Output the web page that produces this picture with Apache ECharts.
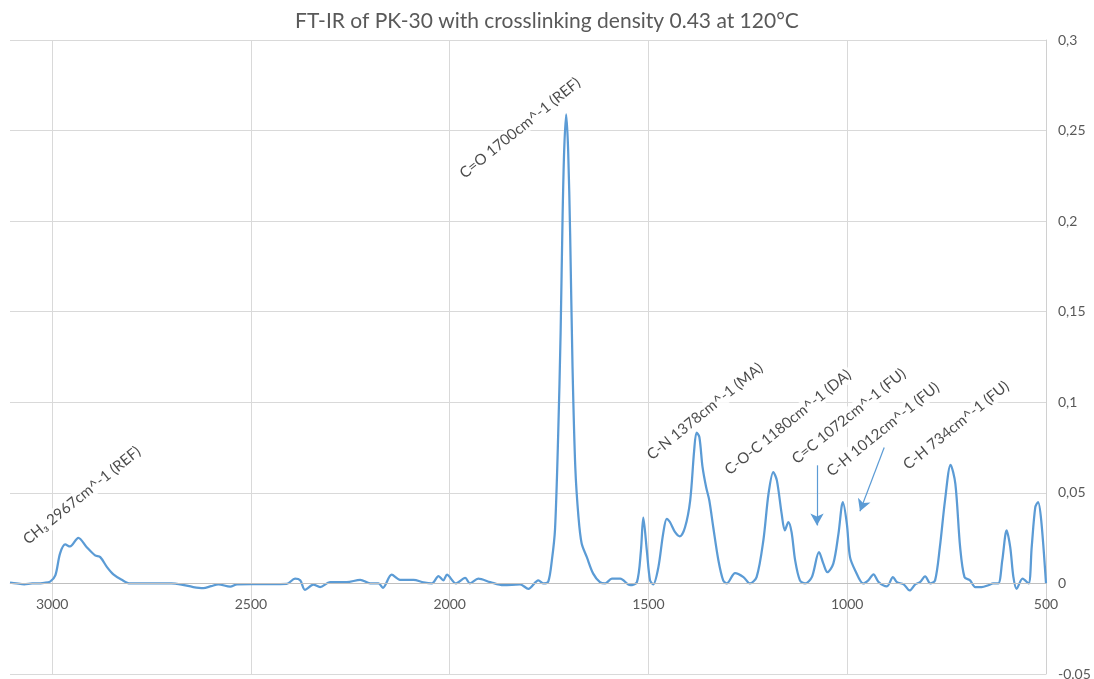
<!DOCTYPE html>
<html>
<head>
<meta charset="utf-8">
<script src="https://cdn.jsdelivr.net/npm/echarts@6/dist/echarts.min.js"></script>
<style>
html,body{margin:0;padding:0;background:#fff;}
#chart{width:1094px;height:679px;}
</style>
</head>
<body>
<div id="chart"></div>
<script>
// Wavenumber (cm^-1) and absorbance
const wavenumbers = [3106,3090,3070,3050,3038,3020,3005,2992,2980,2967,2955,2934,2913,2892,2879,2862,2846,2825,2804,2754,2700,2678,2645,2620,2600,2582,2552,2535,2500,2450,2410,2389,2376,2364,2343,2326,2301,2259,2225,2200,2179,2168,2146,2125,2091,2066,2045,2028,2016,2007,1984,1961,1949,1928,1898,1865,1823,1802,1777,1764,1752,1743,1735,1727,1721,1716,1712,1707,1702,1697,1691,1684,1676,1668,1655,1639,1622,1609,1592,1571,1546,1529,1519,1513,1504,1496,1488,1475,1463,1454,1446,1433,1421,1408,1395,1385,1379,1372,1364,1355,1347,1337,1324,1312,1303,1282,1261,1245,1228,1211,1198,1186,1177,1165,1157,1148,1140,1131,1119,1106,1089,1071,1060,1050,1035,1022,1011,1001,993,980,960,947,934,921,900,885,875,858,843,829,817,804,791,779,767,754,740,728,716,705,691,678,662,645,633,620,610,599,590,582,574,559,544,536,527,520,512,500];
const absorbance = [0.0005,0.0,-0.0005,0.0,0.0,0.0003,0.001,0.0044,0.0166,0.0215,0.0204,0.0252,0.020,0.0155,0.0145,0.009,0.005,0.002,0.0,0.0,0.0,-0.0005,-0.002,-0.0026,-0.0015,-0.0005,-0.0018,-0.0005,-0.0004,-0.0004,-0.0003,0.0026,0.0017,-0.0035,-0.0007,-0.002,0.0007,0.0007,0.002,0.0,0.0,-0.0024,0.0048,0.002,0.002,0.0006,0.0,0.004,0.0017,0.0048,0.0,0.003,0.0,0.0026,0.0007,-0.001,-0.0005,-0.003,0.0017,0.0,0.001,0.0127,0.03,0.0827,0.138,0.2025,0.239,0.259,0.239,0.193,0.1195,0.064,0.0366,0.022,0.0145,0.0054,0.0007,0.0,0.0026,0.0026,-0.001,0.0007,0.018,0.0363,0.018,0.0017,-0.0005,0.009,0.0275,0.0357,0.0339,0.0283,0.026,0.031,0.0459,0.0735,0.0833,0.0808,0.0643,0.0532,0.0459,0.031,0.0127,0.0017,0.0,0.0057,0.0035,0.0,0.0035,0.0237,0.0495,0.0615,0.0569,0.0385,0.0293,0.0339,0.0283,0.0127,0.0017,0.0,0.0035,0.0173,0.0109,0.0062,0.0109,0.0275,0.0449,0.033,0.0145,0.0072,0.0,0.0017,0.005,0.0007,-0.0016,0.0035,0.0007,-0.0005,-0.0039,-0.0005,0.0007,0.0039,0.0,0.0017,0.02,0.0459,0.0655,0.055,0.02,0.0035,0.0017,-0.002,-0.002,-0.001,0.0,0.0,0.0127,0.0293,0.02,0.0035,-0.003,0.0026,0.0,0.02,0.042,0.0449,0.0348,0.0];

// Peak annotations: text and its centre (wavenumber, absorbance)
const annotationTexts = ["CH\u2083 2967cm^-1 (REF)","C=O 1700cm^-1 (REF)","C-N 1378cm^-1 (MA)","C-O-C 1180cm^-1 (DA)","C=C 1072cm^-1 (FU)","C-H 1012cm^-1 (FU)","C-H 734cm^-1 (FU)"];
const annotationX = [2925,1823,1358,1149,996,910,726];
const annotationY = [0.0486,0.2514,0.095,0.089,0.0923,0.0851,0.0873];

// Arrows: start and end points (wavenumber, absorbance)
const arrowFromX = [1076,907];
const arrowFromY = [0.0652,0.075];
const arrowToX = [1076,968];
const arrowToY = [0.032,0.0398];

const xTicks = [500,1000,1500,2000,2500,3000];
const yTicks = [-0.05,0,0.05,0.1,0.15,0.2,0.25,0.3];

const FONT = 'Lato';
const chart = echarts.init(document.getElementById('chart'), null, {renderer:'canvas'});
const lineData = wavenumbers.map((w,i)=>[w, absorbance[i]]);
const annData = annotationTexts.map((t,i)=>[annotationX[i], annotationY[i], t]);
const arrows = arrowFromX.map((x,i)=>[{coord:[x, arrowFromY[i]]},{coord:[arrowToX[i], arrowToY[i]]}]);

chart.setOption({
  animation:false,
  backgroundColor:'#ffffff',
  title:{
    text:'FT-IR of PK-30 with crosslinking density 0.43 at 120°C',
    left:'center', top:6,
    textStyle:{fontFamily:FONT, fontSize:21, fontWeight:'normal', color:'#595959'}
  },
  grid:{left:10, right:48, top:40, bottom:5, containLabel:false, outerBoundsMode:'none'},
  xAxis:{
    type:'value', inverse:true, min:xTicks[0], max:3106, interval:500,
    axisLine:{show:false},
    axisTick:{show:false},
    axisLabel:{fontFamily:FONT, fontSize:14, color:'#595959', margin:-77, showMaxLabel:false,
      formatter:v=> xTicks.indexOf(v)>=0 ? String(v) : ''},
    splitLine:{show:true, showMaxLine:false, lineStyle:{color:'#D9D9D9', width:1}}
  },
  yAxis:{
    type:'value', position:'right', min:yTicks[0], max:yTicks[yTicks.length-1], interval:0.05,
    axisLine:{show:true, lineStyle:{color:'#D0D0D0', width:1}},
    axisTick:{show:false},
    axisLabel:{fontFamily:FONT, fontSize:14, color:'#595959', margin:12,
      formatter:v=>{ const r=Math.round(v*100)/100; if(r<0) return String(r); return String(r).replace('.',','); }},
    splitLine:{show:true, lineStyle:{color:'#D9D9D9', width:1}}
  },
  series:[
    {
      type:'line', data:lineData, smooth:0.3, symbol:'none',
      lineStyle:{color:'#5B9BD5', width:2.25},
      z:3,
      markLine:{
        silent:true, symbol:['none','arrow'], symbolSize:[10,12],
        lineStyle:{color:'#5B9BD5', width:1.2, type:'solid'},
        label:{show:false},
        data:arrows
      }
    },
    {
      type:'line', data:[], z:2, silent:true,
      markLine:{
        silent:true, symbol:['none','none'], animation:false,
        lineStyle:{color:'#BFBFBF', width:1, type:'solid'},
        label:{show:false},
        data:[{yAxis:0}]
      }
    },
    {
      type:'scatter', data:annData, symbolSize:0, z:5, silent:true,
      label:{
        show:true, position:'inside', rotate:39,
        formatter:p=>p.data[2],
        fontFamily:FONT, fontSize:15, color:'#1a1a1a',
        backgroundColor:'#ffffff', padding:[1,2]
      }
    }
  ]
});
</script>
</body>
</html>
